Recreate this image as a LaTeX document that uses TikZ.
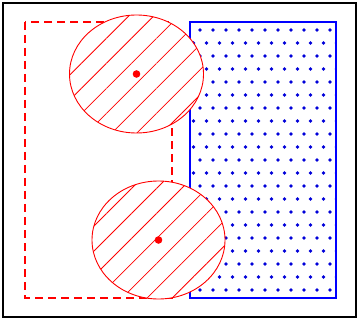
\documentclass[tikz,border=0pt]{standalone}
\usetikzlibrary{patterns.meta}

\begin{document}
\begin{tikzpicture}[
      x=1pt, y=-1pt,
      outline/.style={draw=black, line width=2pt},
      zone/.style={draw=red, line width=2.2pt, dash pattern=on 8pt off 5pt},
      field/.style={draw=blue, line width=2.2pt},
      grain/.style={fill=blue!85!black},
      disc/.style={draw=red, line width=0.9pt, preaction={fill=white},
        pattern={Lines[angle=45, distance=17.7pt, line width=0.8pt]}, pattern color=red},
      centre/.style={fill=red}
    ]
    \useasboundingbox (0,0) rectangle (358,320);
    \coordinate (upper) at (136.5,74);
    \coordinate (lower) at (158.5,240);
    % dashed zone on the left
    \draw[zone] (25,22) rectangle (172,298);
    % dotted field on the right
    \begin{scope}
      \clip (190,22) rectangle (336,298);
      \foreach \k in {0,...,20}{
        \pgfmathsetmacro{\xs}{200-6.5*mod(\k,2)}
        \foreach \j in {-1,...,11}
          \fill[grain] (\xs+13*\j,30+13*\k) circle (1.9pt);
      }
    \end{scope}
    \draw[field] (190,22) rectangle (336,298);
    % hatched discs
    \draw[disc] (upper) ellipse [x radius=67, y radius=59];
    \draw[disc] (lower) ellipse [x radius=66.5, y radius=59];
    \fill[centre] (upper) circle (3.8pt);
    \fill[centre] (lower) circle (3.8pt);
    \draw[outline] (3,3) rectangle (356,317);
  \end{tikzpicture}
\end{document}
